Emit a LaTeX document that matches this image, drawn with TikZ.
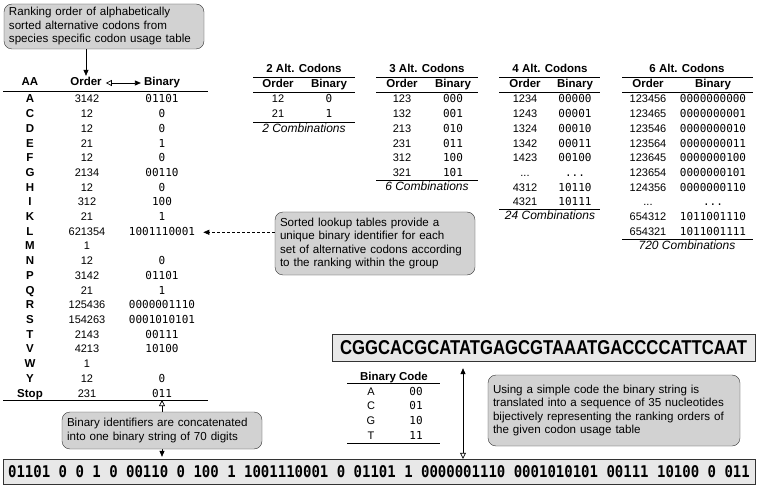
\documentclass[tikz,border=0pt]{standalone}
\usepackage{graphicx}
\usepackage{fontspec}
\setmainfont{Liberation Sans}
\setmonofont{DejaVu Sans Mono}
\usetikzlibrary{arrows.meta}
\hyphenpenalty=10000

\begin{document}
\begin{tikzpicture}[x=1pt,y=-1pt,
	txt/.style={font=\fontsize{11}{13}\selectfont, inner sep=0pt, text height=8pt, text depth=2pt},
	hd/.style={txt, font=\fontsize{11.5}{13}\selectfont\bfseries},
	bin/.style={txt, font=\fontsize{11}{13}\selectfont\ttfamily},
	comb/.style={txt, font=\fontsize{12}{13}\selectfont\itshape},
	note/.style={draw=black!80, fill=gray!35, rounded corners=8pt, align=left, font=\fontsize{11.6}{13.5}\selectfont, inner xsep=5pt, inner ysep=3pt},
	plate/.style={draw=black!80, fill=gray!18, inner sep=0pt},
	rule/.style={line width=0.9pt},
	link/.style={line width=0.7pt},
	ftri/.tip={Triangle[length=6pt,width=5pt]},
	otri/.tip={Triangle[open,length=6pt,width=6pt]}
	]
	\useasboundingbox (0,0) rectangle (757,486);
	
	% ranking table
	\node[note, text width=190pt, minimum height=45pt] (rank) at (104,26.5) {Ranking order of alphabetically\\sorted alternative codons from\\species specific codon usage table};
	
	\node[hd] (hAA) at (30,83) {AA};
	\node[hd] (hOrder) at (86,83) {Order};
	\node[hd] (hBinary) at (162,83) {Binary};
	\draw[rule] (3,91) -- (208,91);
	
	\draw[link, -ftri, shorten >=2pt] (rank.south -| hOrder) -- (hOrder.north);
	\draw[link, otri-ftri, shorten <=4pt, shorten >=3pt] (hOrder.east) -- (hBinary.west);
	
	\node[hd] (aaA) at (30,100) {A};
	\node[txt] (ordA) at (87,100) {3142};
	\node[bin] (binA) at (162,100) {01101};
	\node[hd] (aaC) at (30,114.7) {C};
	\node[txt] (ordC) at (87,114.7) {12};
	\node[bin] (binC) at (162,114.7) {0};
	\node[hd] (aaD) at (30,129.4) {D};
	\node[txt] (ordD) at (87,129.4) {12};
	\node[bin] (binD) at (162,129.4) {0};
	\node[hd] (aaE) at (30,144.1) {E};
	\node[txt] (ordE) at (87,144.1) {21};
	\node[bin] (binE) at (162,144.1) {1};
	\node[hd] (aaF) at (30,158.8) {F};
	\node[txt] (ordF) at (87,158.8) {12};
	\node[bin] (binF) at (162,158.8) {0};
	\node[hd] (aaG) at (30,173.5) {G};
	\node[txt] (ordG) at (87,173.5) {2134};
	\node[bin] (binG) at (162,173.5) {00110};
	\node[hd] (aaH) at (30,188.2) {H};
	\node[txt] (ordH) at (87,188.2) {12};
	\node[bin] (binH) at (162,188.2) {0};
	\node[hd] (aaI) at (30,202.9) {I};
	\node[txt] (ordI) at (87,202.9) {312};
	\node[bin] (binI) at (162,202.9) {100};
	\node[hd] (aaK) at (30,217.6) {K};
	\node[txt] (ordK) at (87,217.6) {21};
	\node[bin] (binK) at (162,217.6) {1};
	\node[hd] (aaL) at (30,232.3) {L};
	\node[txt] (ordL) at (87,232.3) {621354};
	\node[bin] (binL) at (162,232.3) {1001110001};
	\node[hd] (aaM) at (30,247) {M};
	\node[txt] (ordM) at (87,247) {1};
	\node[hd] (aaN) at (30,261.7) {N};
	\node[txt] (ordN) at (87,261.7) {12};
	\node[bin] (binN) at (162,261.7) {0};
	\node[hd] (aaP) at (30,276.4) {P};
	\node[txt] (ordP) at (87,276.4) {3142};
	\node[bin] (binP) at (162,276.4) {01101};
	\node[hd] (aaQ) at (30,291.1) {Q};
	\node[txt] (ordQ) at (87,291.1) {21};
	\node[bin] (binQ) at (162,291.1) {1};
	\node[hd] (aaR) at (30,305.8) {R};
	\node[txt] (ordR) at (87,305.8) {125436};
	\node[bin] (binR) at (162,305.8) {0000001110};
	\node[hd] (aaS) at (30,320.5) {S};
	\node[txt] (ordS) at (87,320.5) {154263};
	\node[bin] (binS) at (162,320.5) {0001010101};
	\node[hd] (aaT) at (30,335.2) {T};
	\node[txt] (ordT) at (87,335.2) {2143};
	\node[bin] (binT) at (162,335.2) {00111};
	\node[hd] (aaV) at (30,349.9) {V};
	\node[txt] (ordV) at (87,349.9) {4213};
	\node[bin] (binV) at (162,349.9) {10100};
	\node[hd] (aaW) at (30,364.6) {W};
	\node[txt] (ordW) at (87,364.6) {1};
	\node[hd] (aaY) at (30,379.3) {Y};
	\node[txt] (ordY) at (87,379.3) {12};
	\node[bin] (binY) at (162,379.3) {0};
	\node[hd] (aaStop) at (30,394) {Stop};
	\node[txt] (ordStop) at (87,394) {231};
	\node[bin] (binStop) at (162,394) {011};
	\draw[rule] (3,400) -- (208,400);
	
	% lookup tables
	\node[hd] (t2) at (304,70) {2 Alt. Codons};
	\draw[rule] (253,77) -- (355,77);
	\node[hd] (t2ord) at (278,84.5) {Order};
	\node[hd] (t2bin) at (329,84.5) {Binary};
	\draw[rule] (253,92) -- (355,92);
	\node[txt] (t2o1) at (278,100) {12};
	\node[bin] (t2b1) at (329,100) {0};
	\node[txt] (t2o2) at (278,114.7) {21};
	\node[bin] (t2b2) at (329,114.7) {1};
	\draw[rule] (253,122) -- (355,122);
	\node[comb] (t2sum) at (304,129.5) {2 Combinations};
	
	\node[hd] (t3) at (427,70) {3 Alt. Codons};
	\draw[rule] (376,77) -- (478,77);
	\node[hd] (t3ord) at (402,84.5) {Order};
	\node[hd] (t3bin) at (453,84.5) {Binary};
	\draw[rule] (376,92) -- (478,92);
	\node[txt] (t3o1) at (402,100) {123};
	\node[bin] (t3b1) at (453,100) {000};
	\node[txt] (t3o2) at (402,114.7) {132};
	\node[bin] (t3b2) at (453,114.7) {001};
	\node[txt] (t3o3) at (402,129.4) {213};
	\node[bin] (t3b3) at (453,129.4) {010};
	\node[txt] (t3o4) at (402,144.1) {231};
	\node[bin] (t3b4) at (453,144.1) {011};
	\node[txt] (t3o5) at (402,158.8) {312};
	\node[bin] (t3b5) at (453,158.8) {100};
	\node[txt] (t3o6) at (402,173.5) {321};
	\node[bin] (t3b6) at (453,173.5) {101};
	\draw[rule] (376,180.5) -- (478,180.5);
	\node[comb] (t3sum) at (427,188) {6 Combinations};
	
	\node[hd] (t4) at (550,70) {4 Alt. Codons};
	\draw[rule] (499,77) -- (600,77);
	\node[hd] (t4ord) at (525,84.5) {Order};
	\node[hd] (t4bin) at (575,84.5) {Binary};
	\draw[rule] (499,92) -- (600,92);
	\node[txt] (t4o1) at (525,100) {1234};
	\node[bin] (t4b1) at (575,100) {00000};
	\node[txt] (t4o2) at (525,114.7) {1243};
	\node[bin] (t4b2) at (575,114.7) {00001};
	\node[txt] (t4o3) at (525,129.4) {1324};
	\node[bin] (t4b3) at (575,129.4) {00010};
	\node[txt] (t4o4) at (525,144.1) {1342};
	\node[bin] (t4b4) at (575,144.1) {00011};
	\node[txt] (t4o5) at (525,158.8) {1423};
	\node[bin] (t4b5) at (575,158.8) {00100};
	\node[txt] (t4o6) at (525,173.5) {...};
	\node[bin] (t4b6) at (575,173.5) {...};
	\node[txt] (t4o7) at (525,188.2) {4312};
	\node[bin] (t4b7) at (575,188.2) {10110};
	\node[txt] (t4o8) at (525,202.9) {4321};
	\node[bin] (t4b8) at (575,202.9) {10111};
	\draw[rule] (499,209.5) -- (600,209.5);
	\node[comb] (t4sum) at (550,217) {24 Combinations};
	
	\node[hd] (t6) at (687,70) {6 Alt. Codons};
	\draw[rule] (622,77) -- (753,77);
	\node[hd] (t6ord) at (648,84.5) {Order};
	\node[hd] (t6bin) at (713,84.5) {Binary};
	\draw[rule] (622,92) -- (753,92);
	\node[txt] (t6o1) at (648,100) {123456};
	\node[bin] (t6b1) at (713,100) {0000000000};
	\node[txt] (t6o2) at (648,114.7) {123465};
	\node[bin] (t6b2) at (713,114.7) {0000000001};
	\node[txt] (t6o3) at (648,129.4) {123546};
	\node[bin] (t6b3) at (713,129.4) {0000000010};
	\node[txt] (t6o4) at (648,144.1) {123564};
	\node[bin] (t6b4) at (713,144.1) {0000000011};
	\node[txt] (t6o5) at (648,158.8) {123645};
	\node[bin] (t6b5) at (713,158.8) {0000000100};
	\node[txt] (t6o6) at (648,173.5) {123654};
	\node[bin] (t6b6) at (713,173.5) {0000000101};
	\node[txt] (t6o7) at (648,188.2) {124356};
	\node[bin] (t6b7) at (713,188.2) {0000000110};
	\node[txt] (t6o8) at (648,202.9) {...};
	\node[bin] (t6b8) at (713,202.9) {...};
	\node[txt] (t6o9) at (648,217.6) {654312};
	\node[bin] (t6b9) at (713,217.6) {1011001110};
	\node[txt] (t6o10) at (648,232.3) {654321};
	\node[bin] (t6b10) at (713,232.3) {1011001111};
	\draw[rule] (622,239) -- (753,239);
	\node[comb] (t6sum) at (687,247) {720 Combinations};
	
	\node[note, text width=190pt, minimum height=63pt] (lookup) at (375,243.5) {Sorted lookup tables provide a\\unique binary identifier for each\\set of alternative codons according\\to the ranking within the group};
	\draw[link, dash pattern=on 3pt off 2pt, -ftri, shorten >=8pt] (lookup.west |- binL) -- (binL.east);
	
	% binary string and nucleotides
	\node[plate, minimum width=752pt, minimum height=25pt, font=\fontsize{14}{16}\selectfont\ttfamily\bfseries] (strip) at (379,471.5) {\scalebox{1}[1.15]{01101 0 0 1 0 00110 0 100 1 1001110001 0 01101 1 0000001110 0001010101 00111 10100 0 011}};
	\node[plate, minimum width=423pt, minimum height=27pt, font=\fontsize{16.7}{18}\selectfont\bfseries] (dna) at (543.5,347.5) {\scalebox{1}[1.2]{CGGCACGCATATGAGCGTAAATGACCCCATTCAAT}};
	
	\coordinate (stopline) at (162,400);
	\coordinate (axis) at (463,410);
	\draw[link, otri-ftri, shorten >=2pt] (stopline) -- (stopline |- strip.north);
	\draw[link, otri-ftri, shorten >=7pt] (strip.north -| axis) -- (dna.south -| axis);
	
	\node[note, text width=190pt, minimum height=37pt] (concat) at (162,430.5) {Binary identifiers are concatenated\\into one binary string of 70 digits};
	
	\node[hd] (bc) at (394,377) {Binary Code};
	\draw[rule] (347,383.5) -- (440,383.5);
	\node[txt] (bcA) at (371,392) {A};
	\node[bin] (bc00) at (416,392) {00};
	\node[txt] (bcC) at (371,406.7) {C};
	\node[bin] (bc01) at (416,406.7) {01};
	\node[txt] (bcG) at (371,421.4) {G};
	\node[bin] (bc10) at (416,421.4) {10};
	\node[txt] (bcT) at (371,436.1) {T};
	\node[bin] (bc11) at (416,436.1) {11};
	\draw[rule] (347,443.5) -- (440,443.5);
	
	\node[note, text width=242pt, minimum height=71pt] (code) at (614,410.5) {Using a simple code the binary string is\\translated into a sequence of 35 nucleotides\\bijectively representing the ranking orders of\\the given codon usage table};
	
\end{tikzpicture}
\end{document}
